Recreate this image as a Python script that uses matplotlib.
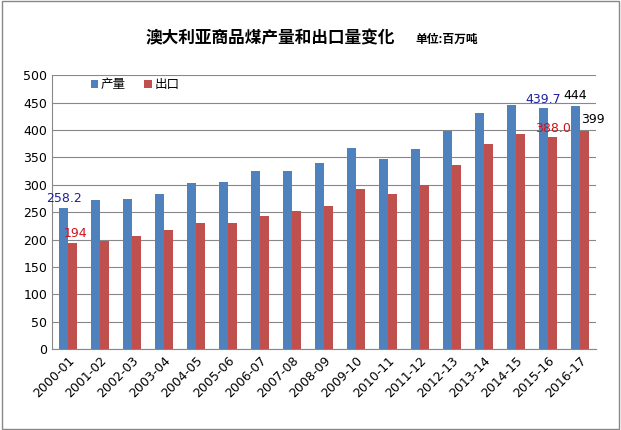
import matplotlib
matplotlib.use("Agg")
import matplotlib.pyplot as plt
from matplotlib import font_manager as fm
import numpy as np

cjk = [f for f in fm.findSystemFonts() if "CJK" in f or "cjk" in f.lower()]
sc = [f for f in cjk if "Regular" in f] or cjk
bd = [f for f in cjk if "Bold" in f] or sc
fp = fm.FontProperties(fname=sc[0]) if sc else fm.FontProperties()
fpb = fm.FontProperties(fname=bd[0]) if bd else fp

years = ["2000-01","2001-02","2002-03","2003-04","2004-05","2005-06","2006-07","2007-08",
         "2008-09","2009-10","2010-11","2011-12","2012-13","2013-14","2014-15","2015-16","2016-17"]
production = [258.2,272,274,283,303,306,325,325,339,367,347,365,398,431,445,439.7,444]
exports = [194,197,206,217,230,230,243,252,261,292,283,300,336,374,392,388.0,399]

fig = plt.figure(figsize=(6.21,4.30), dpi=100)
ax = fig.add_axes([0.084, 0.188, 0.876, 0.637])
x = np.arange(len(years))
w = 0.28
ax.bar(x-w/2, production, w, color="#4F81BD", label="产量", zorder=3)
ax.bar(x+w/2, exports, w, color="#C0504D", label="出口", zorder=3)
ax.set_ylim(0,500)
ax.set_yticks(range(0,501,50))
ax.set_xlim(-0.5, len(years)-0.5)
ax.set_xticks(x)
ax.set_xticklabels(years, rotation=45, ha="right", rotation_mode="anchor", fontsize=9)
ax.tick_params(axis="y", labelsize=9, length=0)
ax.tick_params(axis="x", length=0)
ax.grid(axis="y", color="#888888", lw=0.8, zorder=0)
for s in ["top","right"]:
    ax.spines[s].set_visible(False)
ax.spines["left"].set_color("#888888")
ax.spines["bottom"].set_color("#888888")
lp = fp.copy(); lp.set_size(9)
ax.legend(loc="upper left", ncol=2, frameon=False, prop=lp, handlelength=0.6,
          handleheight=0.6, columnspacing=1.5, handletextpad=0.2, bbox_to_anchor=(0.05,1.03))

ax.text(x[0]-w/2, production[0]+5, f"{production[0]:.1f}", ha="center", va="bottom", color="#1F1F9F", fontsize=9, zorder=4)
ax.text(x[0]+w/2+0.1, exports[0]+5, f"{exports[0]:.0f}", ha="center", va="bottom", color="#D0101A", fontsize=9, zorder=4)
ax.text(x[15]-w/2, production[15]+5, f"{production[15]:.1f}", ha="center", va="bottom", color="#1F1F9F", fontsize=9, zorder=4)
ax.text(x[15]+w/2, exports[15]+3, f"{exports[15]:.1f}", ha="center", va="bottom", color="#D0101A", fontsize=9, zorder=4)
ax.text(x[16]-w/2, production[16]+8, f"{production[16]:.0f}", ha="center", va="bottom", color="black", fontsize=9, zorder=4)
ax.text(x[16]+w/2+0.25, exports[16]+8, f"{exports[16]:.0f}", ha="center", va="bottom", color="black", fontsize=9, zorder=4)

tp = fpb.copy(); tp.set_size(12)
up = fpb.copy(); up.set_size(8.5)
fig.text(0.435, 0.91, "澳大利亚商品煤产量和出口量变化", ha="center", va="center", fontproperties=tp)
fig.text(0.72, 0.908, "单位:百万吨", ha="center", va="center", fontproperties=up)
fig.patches.append(plt.Rectangle((0.003,0.003),0.994,0.994, transform=fig.transFigure, fill=False, ec="#888888", lw=1))
fig.savefig("out.png", dpi=100)
